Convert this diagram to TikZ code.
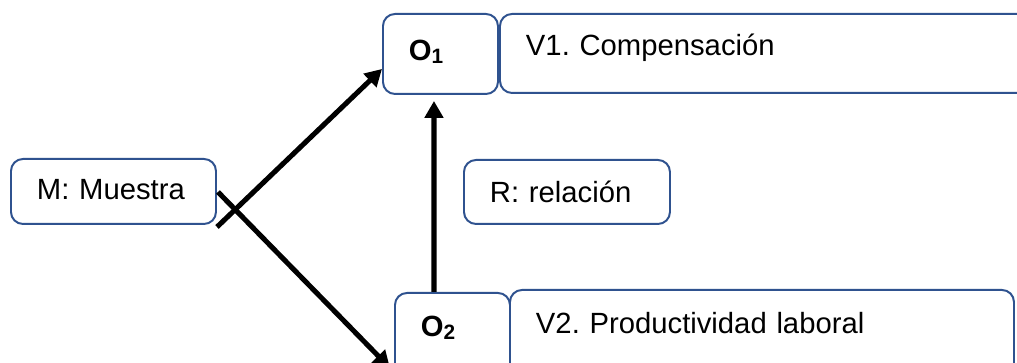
\documentclass[tikz,border=0pt]{standalone}
\usepackage{fontspec}
\setmainfont{Liberation Sans}
\usepackage{tikz}
\usetikzlibrary{arrows.meta}
\frenchspacing
\definecolor{boxblue}{RGB}{47,82,143}
\tikzstyle{box} = [rectangle, draw=boxblue, line width=1.4pt, rounded corners=0.3cm,
    anchor=north west, align=left, inner xsep=0.65cm, inner ysep=0pt,
    font=\fontsize{20.8pt}{24pt}\selectfont]
\tikzstyle{line} = [draw, line width=3.6pt, -{Triangle[length=0.42cm,width=0.45cm]}]
\newcommand{\obs}[1]{\textbf{O\raisebox{-0.06cm}{\fontsize{14.8pt}{15pt}\selectfont #1}}}

\begin{document}
\begin{tikzpicture}
                \path [fill=white, use as bounding box] (0,0) rectangle (25.425,9.075);
                \node [box, text width=3.825cm, text height=1.025cm, text depth=0.6cm] at (0.25,5.125) (muestra) {M: Muestra};
                \node [box, text width=1.575cm, text height=1.175cm, text depth=0.825cm] at (9.55,8.75) (o1) {\obs{1}};
                \node [box, text width=12.1cm, text height=1.05cm, text depth=0.925cm] at (12.475,8.75) (v1) {V1. Compensación};
                \node [box, text width=3.85cm, text height=1.075cm, text depth=0.525cm] at (11.575,5.1) (rel) {R: relación};
                \node [box, text width=1.575cm, text height=1.1cm, text depth=1.35cm] at (9.85,1.775) (o2) {\obs{2}};
                \node [box, text width=11.3cm, text height=1.1cm, text depth=1.425cm] at (12.725,1.85) (v2) {V2. Productividad laboral};
                \coordinate (m-up) at (5.425,3.4);
                \coordinate (m-down) at (5.45,4.275);
                \coordinate (o2-in) at (9.75,-0.125);
                \path [line] (m-up) -- ([yshift=-0.375cm]o1.west);
                \path [line] (m-down) -- (o2-in);
                \path [line, shorten >=0.15cm] ([xshift=-0.4625cm]o2.north) -- ([xshift=-0.1625cm]o1.south);
            \end{tikzpicture}
\end{document}
